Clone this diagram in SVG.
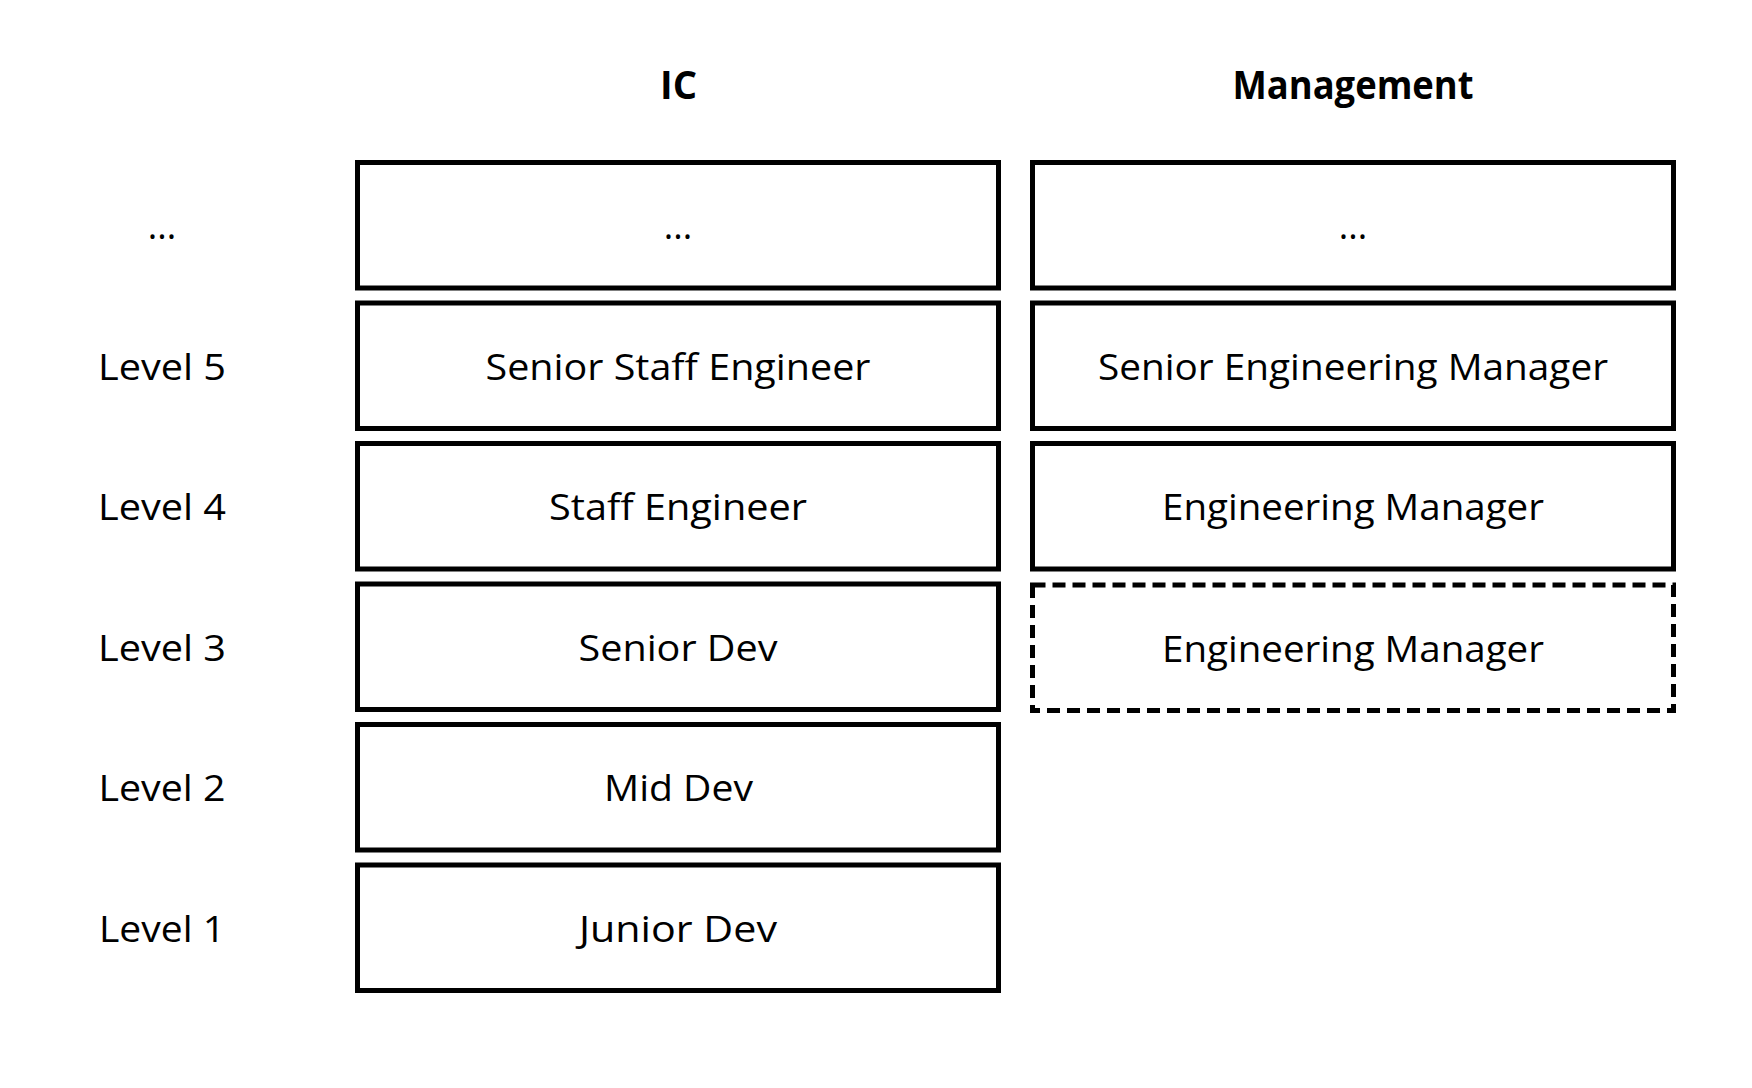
<svg xmlns="http://www.w3.org/2000/svg" width="1752" height="1088" viewBox="0 0 1752 1088">
<style>
.box{fill:#fff;stroke:#000;stroke-width:5}
.dash{fill:#fff;stroke:#000;stroke-width:5;stroke-dasharray:13 7}
.t{font-family:"Open Sans","Noto Sans","Liberation Sans",sans-serif;font-size:36px;fill:#000;text-anchor:middle}
.h{font-family:"Open Sans","Noto Sans","Liberation Sans",sans-serif;font-size:40px;font-weight:bold;fill:#000;text-anchor:middle}
</style>
<rect width="1752" height="1088" fill="#fff"/>
<g id="headers">
<text class="h" x="678.5" y="99" textLength="37" lengthAdjust="spacingAndGlyphs">IC</text>
<text class="h" x="1353" y="99" textLength="241" lengthAdjust="spacingAndGlyphs">Management</text>
</g>
<g id="levels">
<text class="t" x="162" y="239">...</text>
<text class="t" x="162" y="379.5" textLength="128" lengthAdjust="spacingAndGlyphs">Level 5</text>
<text class="t" x="162" y="520" textLength="128" lengthAdjust="spacingAndGlyphs">Level 4</text>
<text class="t" x="162" y="660.5" textLength="128" lengthAdjust="spacingAndGlyphs">Level 3</text>
<text class="t" x="162" y="801" textLength="127" lengthAdjust="spacingAndGlyphs">Level 2</text>
<text class="t" x="162" y="941.5" textLength="126" lengthAdjust="spacingAndGlyphs">Level 1</text>
</g>
<g id="ic-top">
<rect class="box" x="357.5" y="162.5" width="641" height="125.5"/>
<text class="t" x="678" y="239">...</text>
</g>
<g id="ic-senior-staff">
<rect class="box" x="357.5" y="303" width="641" height="125.5"/>
<text class="t" x="678" y="379.5" textLength="385" lengthAdjust="spacingAndGlyphs">Senior Staff Engineer</text>
</g>
<g id="ic-staff">
<rect class="box" x="357.5" y="443.5" width="641" height="125.5"/>
<text class="t" x="678" y="520" textLength="258" lengthAdjust="spacingAndGlyphs">Staff Engineer</text>
</g>
<g id="ic-senior-dev">
<rect class="box" x="357.5" y="584" width="641" height="125.5"/>
<text class="t" x="678" y="660.5" textLength="199" lengthAdjust="spacingAndGlyphs">Senior Dev</text>
</g>
<g id="ic-mid-dev">
<rect class="box" x="357.5" y="724.5" width="641" height="125.5"/>
<text class="t" x="678.5" y="801" textLength="149" lengthAdjust="spacingAndGlyphs">Mid Dev</text>
</g>
<g id="ic-junior-dev">
<rect class="box" x="357.5" y="865" width="641" height="125.5"/>
<text class="t" x="678" y="941.5" textLength="198" lengthAdjust="spacingAndGlyphs">Junior Dev</text>
</g>
<g id="mgmt-top">
<rect class="box" x="1032.5" y="162.5" width="641" height="125.5"/>
<text class="t" x="1353" y="239">...</text>
</g>
<g id="mgmt-senior-em">
<rect class="box" x="1032.5" y="303" width="641" height="125.5"/>
<text class="t" x="1353" y="379.5" textLength="510" lengthAdjust="spacingAndGlyphs">Senior Engineering Manager</text>
</g>
<g id="mgmt-em">
<rect class="box" x="1032.5" y="443.5" width="641" height="125.5"/>
<text class="t" x="1353" y="520" textLength="382" lengthAdjust="spacingAndGlyphs">Engineering Manager</text>
</g>
<g id="mgmt-em-dashed">
<rect class="dash" x="1032.5" y="585" width="641" height="125.5"/>
<text class="t" x="1353" y="661.5" textLength="382" lengthAdjust="spacingAndGlyphs">Engineering Manager</text>
</g>
<g id="connectors"></g>
</svg>
